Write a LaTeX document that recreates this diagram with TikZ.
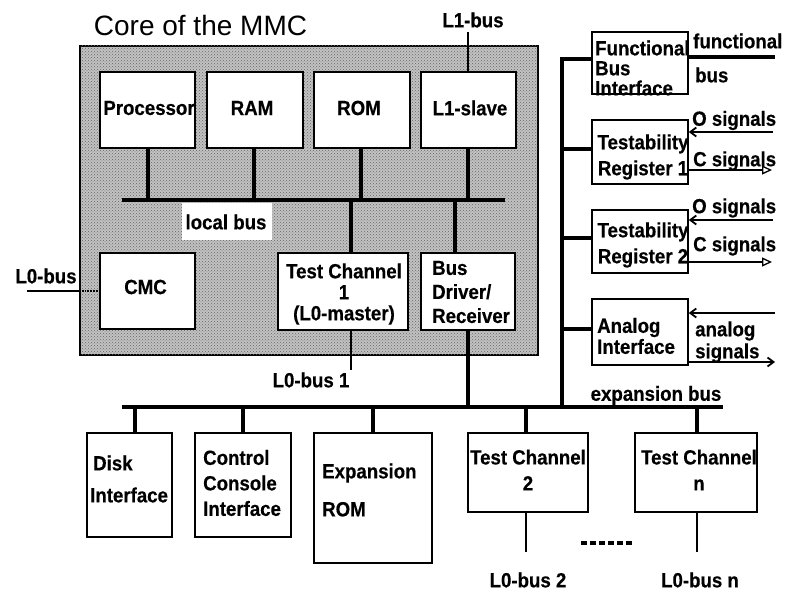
\documentclass[tikz,border=0pt]{standalone}
\usepackage{fontspec}
\setmainfont{Liberation Sans}
\newfontfamily\lblfont{Liberation Sans}[FakeStretch=0.91,FakeBold=0.4]
\usetikzlibrary{fit,arrows.meta,patterns}

\begin{document}
\begin{tikzpicture}[x=1pt,y=-1pt,
  blk/.style={draw, line width=1.5pt, fill=white, inner sep=0pt},
  lbl/.style={inner sep=0pt, font=\lblfont\bfseries\fontsize{20.5}{#1}\selectfont},
  lbl/.default=20,
  bus/.style={line width=4pt},
  wire/.style={line width=1.8pt},
  sigin/.style={line width=1.8pt, -{Straight Barb[length=6pt,width=9pt]}},
  sigout/.style={line width=1.6pt, -{Triangle[open,length=10pt,width=9pt,line width=1.3pt]}},
  anaout/.style={line width=1.8pt, -{Straight Barb[length=6pt,width=9pt]}},
]
\useasboundingbox (0,0) rectangle (787,593);

% ---------- core of the MMC ----------
\node[font=\fontsize{28}{28}\selectfont, inner sep=0pt] (title) at (200.5,25) {Core of the MMC};
\node[draw, line width=2pt, fill=black!24, inner sep=0pt,
      postaction={pattern=crosshatch dots, pattern color=black!60},
      fit={(80,46)(538,355)}] (core) {};

\node[blk, fit={(100,72)(195,148)}] (proc) {};
\node[blk, fit={(207,72)(303,148)}] (ram) {};
\node[blk, fit={(314,72)(410,148)}] (rom) {};
\node[blk, fit={(421,72)(516,148)}] (l1s) {};
\node[blk, fit={(100,253)(195,329)}] (cmc) {};
\node[blk, fit={(278,253)(408,330)}] (tc1) {};
\node[blk, fit={(421,253)(515,330)}] (bdr) {};

% local bus and its taps
\coordinate (lb-l) at (122,200);
\coordinate (lb-r) at (505,200);
\draw[bus] (lb-l) -- (lb-r);
\coordinate (t-proc) at (148,200);
\coordinate (t-ram) at (254,200);
\coordinate (t-rom) at (361,200);
\coordinate (t-l1s) at (468,200);
\coordinate (t-tc1) at (351,200);
\coordinate (t-bdr) at (455,200);
\draw[bus] (t-proc) -- (t-proc |- proc.south);
\draw[bus] (t-ram) -- (t-ram |- ram.south);
\draw[bus] (t-rom) -- (t-rom |- rom.south);
\draw[bus] (t-l1s) -- (t-l1s |- l1s.south);
\draw[bus] (t-tc1) -- (t-tc1 |- tc1.north);
\draw[bus] (t-bdr) -- (t-bdr |- bdr.north);
\node[fill=white, inner sep=0pt, minimum width=90pt, minimum height=37pt] (lbbg) at (227,221.5) {};
\node[lbl] (lbtxt) at (226,222) {local bus};

% L1-bus
\coordinate (l1-end) at (468,32);
\draw[wire] (l1-end) -- (l1-end |- l1s.north);
\node[lbl] (l1lbl) at (473,20) {L1-bus};

% L0-bus into the CMC
\coordinate (l0-end) at (27,291);
\draw[wire] (l0-end) -- (l0-end -| core.west);
\draw[wire, densely dotted] (l0-end -| core.west) -- (l0-end -| cmc.west);
\node[lbl] (l0lbl) at (46,276) {L0-bus};

% L0-bus 1
\coordinate (l01-end) at (351,370);
\draw[wire] (l01-end |- tc1.south) -- (l01-end);
\node[lbl] (l01lbl) at (311,380) {L0-bus 1};

% box texts inside the core
\node[lbl] (proc-t) at (149,108) {Processor};
\node[lbl] (ram-t) at (252,108) {RAM};
\node[lbl] (rom-t) at (359,108) {ROM};
\node[lbl] (l1s-t) at (470,108) {L1-slave};
\node[lbl] (cmc-t) at (145.5,287) {CMC};
\node[lbl=21, align=center] (tc1-t) at (344,294) {Test Channel\\1\\(L0-master)};
\node[lbl=24, align=left, anchor=west] (bdr-t) at (432,292) {Bus\\Driver/\\Receiver};

% ---------- expansion bus ----------
\coordinate (eb-l) at (122,407);
\coordinate (eb-r) at (723,407);
\draw[bus] (eb-l) -- (eb-r);
\node[lbl] (eblbl) at (656,395.5) {expansion bus};

\coordinate (t-bdr2) at (468,407);
\draw[line width=3.5pt] (t-bdr2 |- bdr.south) -- (t-bdr2);

% right-hand bus
\coordinate (rb-top) at (562,59);
\coordinate (t-rb) at (562,407);
\node[blk, fit={(592,32)(688,94)}] (fbi) {};
\node[blk, fit={(592,120)(688,184)}] (tr1) {};
\node[blk, fit={(592,210)(688,273)}] (tr2) {};
\node[blk, fit={(592,299)(688,365)}] (ana) {};
\draw[bus] (t-rb) -- (rb-top) -- (rb-top -| fbi.west);
\coordinate (j1) at (562,149);
\coordinate (j2) at (562,238);
\coordinate (j3) at (562,329);
\draw[bus] (j1) -- (j1 -| tr1.west);
\draw[bus] (j2) -- (j2 -| tr2.west);
\draw[bus] (j3) -- (j3 -| ana.west);

% functional bus
\coordinate (fb-end) at (775,57);
\draw[bus] (fb-end -| fbi.east) -- (fb-end);
\node[lbl, anchor=west] (fblbl1) at (693,41) {functional};
\node[lbl, anchor=west] (fblbl2) at (695,75) {bus};

% testability register signals
\coordinate (o1) at (773,132);
\coordinate (c1) at (772,170);
\coordinate (o2) at (773,220);
\coordinate (c2) at (772,262);
\draw[sigin] (o1) -- (o1 -| tr1.east);
\draw[sigout] (c1 -| tr1.east) -- (c1);
\draw[sigin] (o2) -- (o2 -| tr2.east);
\draw[sigout] (c2 -| tr2.east) -- (c2);
\node[lbl, anchor=west] (o1lbl) at (692,120.5) {O signals};
\node[lbl, anchor=west] (c1lbl) at (693,161) {C signals};
\node[lbl, anchor=west] (o2lbl) at (692,208) {O signals};
\node[lbl, anchor=west] (c2lbl) at (693,246) {C signals};

% analog signals
\coordinate (ai) at (775,313);
\coordinate (ao) at (775,362);
\draw[sigin] (ai) -- (ai -| ana.east);
\draw[anaout] (ao -| ana.east) -- (ao);
\node[lbl, anchor=west] (alg1) at (695,331) {analog};
\node[lbl, anchor=west] (alg2) at (695,353) {signals};

% texts of the right-hand boxes
\node[lbl=20, align=left, anchor=west] (fbi-t) at (595,68) {Functional\\Bus\\Interface};
\node[lbl=26, align=center] (tr1-t) at (643,157) {Testability\\Register 1};
\node[lbl=26, align=center] (tr2-t) at (643,245) {Testability\\Register 2};
\node[lbl=21, align=left, anchor=west] (ana-t) at (597,336) {Analog\\Interface};

% ---------- units on the expansion bus ----------
\node[blk, fit={(87,433)(172,537)}] (disk) {};
\node[blk, fit={(195,433)(291,537)}] (ccon) {};
\node[blk, fit={(314,433)(432,563)}] (erom) {};
\node[blk, fit={(468,433)(588,512)}] (tc2) {};
\node[blk, fit={(635,433)(757,512)}] (tcn) {};

\coordinate (t-disk) at (135,407);
\coordinate (t-ccon) at (243,407);
\coordinate (t-erom) at (373,407);
\coordinate (t-tc2) at (526,407);
\coordinate (t-tcn) at (697,407);
\draw[bus] (t-disk) -- (t-disk |- disk.north);
\draw[bus] (t-ccon) -- (t-ccon |- ccon.north);
\draw[bus] (t-erom) -- (t-erom |- erom.north);
\draw[bus] (t-tc2) -- (t-tc2 |- tc2.north);
\draw[bus] (t-tcn) -- (t-tcn |- tcn.north);

\node[lbl=32, align=left, anchor=west] (disk-t) at (90,479) {\hspace*{3pt}Disk\\Interface};
\node[lbl=25.5, align=left, anchor=west] (ccon-t) at (203,483) {Control\\Console\\Interface};
\node[lbl=38, align=left, anchor=west] (erom-t) at (322,490) {Expansion\\ROM};
\node[lbl=26, align=center] (tc2-t) at (528,470) {Test Channel\\2};
\node[lbl=26, align=center] (tcn-t) at (699,470) {Test Channel\\n};

% L0-buses of the further test channels
\coordinate (l02-end) at (526,552);
\coordinate (l0n-end) at (697,552);
\draw[wire] (l02-end |- tc2.south) -- (l02-end);
\draw[wire] (l0n-end |- tcn.south) -- (l0n-end);
\node[lbl] (l02lbl) at (528,580) {L0-bus 2};
\node[lbl] (l0nlbl) at (700,580) {L0-bus n};

% continuation dashes between channel 2 and channel n
\coordinate (dd-l) at (581,543);
\coordinate (dd-r) at (634,543);
\draw[line width=4pt, dash pattern=on 6pt off 3pt] (dd-l) -- (dd-r);
\end{tikzpicture}
\end{document}
